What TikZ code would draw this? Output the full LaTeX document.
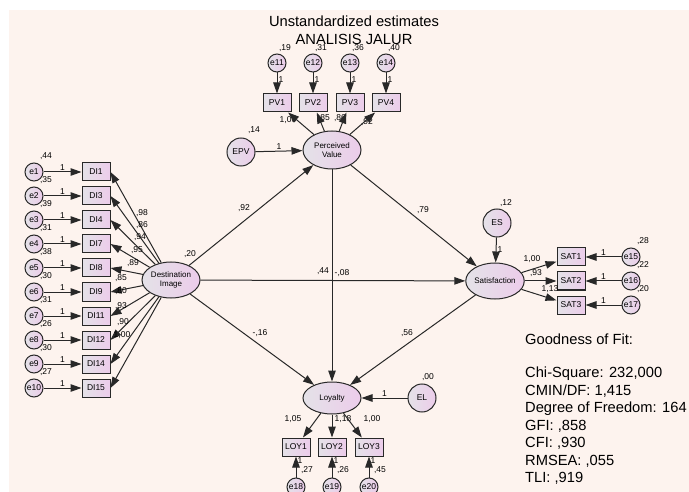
\documentclass[tikz,border=0pt]{standalone}
\usepackage{fontspec}
\setmainfont{Liberation Sans}
\usepackage{xcolor}
\usepackage{tikz}
\usetikzlibrary{positioning,shapes.geometric,arrows.meta}

\definecolor{bgpink}{RGB}{253,243,238}
\definecolor{boxl}{RGB}{228,226,232}
\definecolor{boxr}{RGB}{236,204,234}
\definecolor{lineg}{RGB}{40,40,40}

\tikzset{
  arr/.style={-{Triangle[length=11pt,width=7.5pt]}, line width=1pt, draw=lineg},
  obs/.style={rectangle, draw=lineg, line width=1pt, minimum width=28pt, minimum height=18pt,
    inner sep=0pt, left color=boxl, right color=boxr, font=\fontsize{8.5}{9}\selectfont},
  err/.style={circle, draw=lineg, line width=1pt, minimum size=18pt, inner sep=0pt,
    left color=boxl, right color=boxr, font=\fontsize{8.5}{9}\selectfont},
  dist/.style={err, minimum size=28pt},
  lat/.style={ellipse, draw=lineg, line width=1pt, minimum width=58pt, minimum height=36pt,
    inner sep=0pt, align=center, left color=boxl, right color=boxr, font=\fontsize{8}{9.5}\selectfont},
  est/.style={inner sep=1pt, font=\fontsize{8.5}{9}\selectfont},
  gof/.style={align=left, inner sep=0pt, font=\fontsize{14.7}{17.5}\selectfont}
}

\begin{document}
\begin{tikzpicture}[x=1pt,y=-1pt]
  \fill[white] (0,0) rectangle (689,492);
  \fill[bgpink] (9,10) rectangle (689,492);
  \useasboundingbox (0,0) rectangle (689,492);

  \node[gof, align=center] (title) at (354,30) {Unstandardized estimates\\ANALISIS JALUR};

  % latent variables
  \node[lat] (di) at (171,280) {Destination\\Image};
  \node[lat, minimum height=38pt] (pv) at (332,150) {Perceived\\Value};
  \node[lat, minimum width=56pt] (sat) at (495,281) {Satisfaction};
  \node[lat, minimum height=32pt] (loy) at (332,398) {Loyalty};

  % disturbances
  \node[dist] (epv) at (241,152) {EPV};
  \node[dist] (es) at (497,223) {ES};
  \node[dist] (el) at (422,398) {EL};
  \node[est] (vdi) at (190,254) {,20};
  \node[est] (vepv) at (254,130) {,14};
  \node[est] (ves) at (506,203) {,12};
  \node[est] (vel) at (428,377) {,00};

  % destination image indicators
  \foreach \lab/\var/\ld/\lx/\ly [count=\i] in {DI1/{,44}/{,98}/142/213, DI3/{,35}/{,86}/142/225,
      DI4/{,39}/{,94}/140/237, DI7/{,31}/{,95}/137/250, DI8/{,38}/{,89}/133/263,
      DI9/{,30}/{,85}/121/278, DI11/{,31}/{,80}/121/291, DI12/{,26}/{,93}/121/306,
      DI14/{,30}/{,90}/123/322, DI15/{,27}/{1,00}/122/335}
  {
    \pgfmathsetmacro\yy{148+24*\i}
    \node[obs] (d\i) at (96,\yy) {\lab};
    \node[err] (e\i) at (34,\yy) {e\i};
    \node[est] (ve\i) at ([shift={(12,-16)}]e\i) {\var};
    \node[est] (ld\i) at (\lx,\ly) {\ld};
    \draw[arr] (e\i) -- node[est, above] {1} (d\i);
    \draw[arr] (di) -- (d\i.east);
  }

  % perceived value indicators
  \foreach \lab/\x/\var/\ld/\lx/\ly [count=\i] in {PV1/277/{,19}/{1,00}/288/120,
      PV2/313/{,31}/{,85}/324/118, PV3/350/{,36}/{,86}/340/118, PV4/386/{,40}/{,92}/367/122}
  {
    \pgfmathtruncatemacro\k{\i+10}
    \node[obs] (p\i) at (\x,103) {\lab};
    \node[err] (e\k) at (\x,63) {e\k};
    \node[est] (ve\k) at ([shift={(8,-15)}]e\k) {\var};
    \node[est] (lp\i) at (\lx,\ly) {\ld};
    \draw[arr] (e\k) -- node[est, right, pos=0.35] {1} (p\i);
    \draw[arr] (pv) -- (p\i);
  }

  % satisfaction indicators
  \foreach \lab/\y/\var/\ld/\lx/\ly [count=\i] in {SAT1/257/{,28}/{1,00}/532/259,
      SAT2/281/{,22}/{,93}/536/273, SAT3/305/{,20}/{1,13}/550/289}
  {
    \pgfmathtruncatemacro\k{\i+14}
    \node[obs] (s\i) at (571,\y) {\lab};
    \node[err] (e\k) at (631,\y) {e\k};
    \node[est] (ve\k) at ([shift={(12,-16)}]e\k) {\var};
    \node[est] (ls\i) at (\lx,\ly) {\ld};
    \draw[arr] (e\k) -- node[est, above] {1} (s\i);
    \draw[arr] (sat) -- (s\i);
  }

  % loyalty indicators
  \foreach \lab/\x/\var/\ld/\lx [count=\i] in {LOY1/296/{,27}/{1,05}/293,
      LOY2/332/{,26}/{1,18}/343, LOY3/369/{,45}/{1,00}/372}
  {
    \pgfmathtruncatemacro\k{\i+17}
    \node[obs] (l\i) at (\x,447) {\lab};
    \node[err] (e\k) at (\x,487) {e\k};
    \node[est] (ve\k) at ([shift={(11,-17)}]e\k) {\var};
    \node[est] (ll\i) at (\lx,419) {\ld};
    \draw[arr] (e\k) -- node[est, right, pos=0.8] {1} (l\i);
    \draw[arr] (loy) -- (l\i);
  }

  % structural paths
  \draw[arr] (epv) -- node[est, above] {1} (pv);
  \draw[arr] (es) -- node[est, right] {1} (sat);
  \draw[arr] (el) -- node[est, above] {1} (loy);
  \draw[arr] (di) -- (pv);
  \draw[arr] (pv) -- (sat);
  \draw[arr] (di) -- (sat);
  \draw[arr] (pv) -- (loy);
  \draw[arr] (di) -- (loy);
  \draw[arr] (sat) -- (loy);
  \node[est] (b1) at (244,208) {,92};
  \node[est] (b2) at (423,210) {,79};
  \node[est] (b3) at (323,271) {,44};
  \node[est] (b4) at (342,273) {-,08};
  \node[est] (b5) at (260,333) {-,16};
  \node[est] (b6) at (407,333) {,56};

  \node[gof, anchor=north west] (fit) at (525,334) {Goodness of Fit:\\[15.5pt]Chi-Square: 232,000\\CMIN/DF: 1,415\\Degree of Freedom: 164\\GFI: ,858\\CFI: ,930\\RMSEA: ,055\\TLI: ,919};
\end{tikzpicture}
\end{document}
